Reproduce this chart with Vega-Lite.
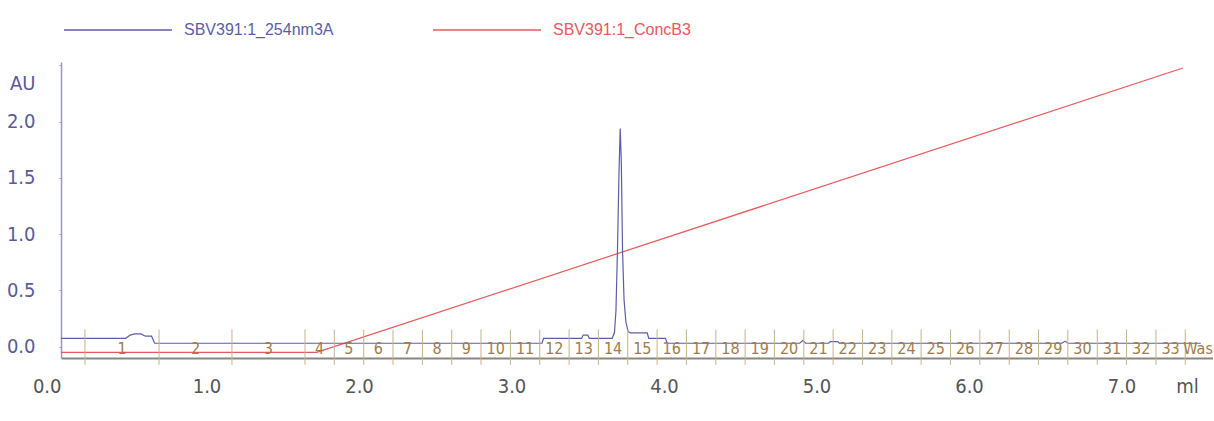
{
  "$schema": "https://vega.github.io/schema/vega-lite/v6.json",
  "autosize": {"type": "none"},
  "padding": {"left": 61, "top": 62, "right": 0, "bottom": 63},
  "width": 1152,
  "height": 296,
  "background": "white",
  "config": {"view": {"stroke": null}},
  "datasets": {
    "fractions": [
      {"label": "1", "start": 0.203, "mid": 0.446},
      {"label": "2", "start": 0.689, "mid": 0.928},
      {"label": "3", "start": 1.167, "mid": 1.406},
      {"label": "4", "start": 1.646, "mid": 1.742},
      {"label": "5", "start": 1.838, "mid": 1.934},
      {"label": "6", "start": 2.031, "mid": 2.127},
      {"label": "7", "start": 2.223, "mid": 2.319},
      {"label": "8", "start": 2.416, "mid": 2.512},
      {"label": "9", "start": 2.608, "mid": 2.704},
      {"label": "10", "start": 2.800, "mid": 2.896},
      {"label": "11", "start": 2.993, "mid": 3.089},
      {"label": "12", "start": 3.185, "mid": 3.281},
      {"label": "13", "start": 3.378, "mid": 3.474},
      {"label": "14", "start": 3.570, "mid": 3.666},
      {"label": "15", "start": 3.762, "mid": 3.858},
      {"label": "16", "start": 3.955, "mid": 4.051},
      {"label": "17", "start": 4.147, "mid": 4.243},
      {"label": "18", "start": 4.340, "mid": 4.436},
      {"label": "19", "start": 4.532, "mid": 4.628},
      {"label": "20", "start": 4.724, "mid": 4.820},
      {"label": "21", "start": 4.917, "mid": 5.013},
      {"label": "22", "start": 5.109, "mid": 5.205},
      {"label": "23", "start": 5.302, "mid": 5.398},
      {"label": "24", "start": 5.494, "mid": 5.590},
      {"label": "25", "start": 5.686, "mid": 5.782},
      {"label": "26", "start": 5.879, "mid": 5.975},
      {"label": "27", "start": 6.071, "mid": 6.167},
      {"label": "28", "start": 6.264, "mid": 6.360},
      {"label": "29", "start": 6.456, "mid": 6.552},
      {"label": "30", "start": 6.648, "mid": 6.744},
      {"label": "31", "start": 6.841, "mid": 6.937},
      {"label": "32", "start": 7.033, "mid": 7.129},
      {"label": "33", "start": 7.226, "mid": 7.322},
      {"label": "Waste", "start": 7.418, "mid": 7.55}
    ],
    "curves": [
      {"series": "SBV391:1_ConcB3", "ml": 0.046, "au": -0.05},
      {"series": "SBV391:1_ConcB3", "ml": 1.722, "au": -0.05},
      {"series": "SBV391:1_ConcB3", "ml": 7.403, "au": 2.478},
      {"series": "SBV391:1_254nm3A", "ml": 0.046, "au": 0.075},
      {"series": "SBV391:1_254nm3A", "ml": 0.47, "au": 0.075},
      {"series": "SBV391:1_254nm3A", "ml": 0.5, "au": 0.104},
      {"series": "SBV391:1_254nm3A", "ml": 0.53, "au": 0.114},
      {"series": "SBV391:1_254nm3A", "ml": 0.57, "au": 0.114},
      {"series": "SBV391:1_254nm3A", "ml": 0.6, "au": 0.094},
      {"series": "SBV391:1_254nm3A", "ml": 0.64, "au": 0.094},
      {"series": "SBV391:1_254nm3A", "ml": 0.66, "au": 0.031},
      {"series": "SBV391:1_254nm3A", "ml": 3.2, "au": 0.031},
      {"series": "SBV391:1_254nm3A", "ml": 3.21, "au": 0.075},
      {"series": "SBV391:1_254nm3A", "ml": 3.46, "au": 0.075},
      {"series": "SBV391:1_254nm3A", "ml": 3.47, "au": 0.104},
      {"series": "SBV391:1_254nm3A", "ml": 3.5, "au": 0.104},
      {"series": "SBV391:1_254nm3A", "ml": 3.51, "au": 0.075},
      {"series": "SBV391:1_254nm3A", "ml": 3.66, "au": 0.075},
      {"series": "SBV391:1_254nm3A", "ml": 3.675, "au": 0.124},
      {"series": "SBV391:1_254nm3A", "ml": 3.685, "au": 0.32},
      {"series": "SBV391:1_254nm3A", "ml": 3.695, "au": 0.86},
      {"series": "SBV391:1_254nm3A", "ml": 3.705, "au": 1.55},
      {"series": "SBV391:1_254nm3A", "ml": 3.713, "au": 1.94},
      {"series": "SBV391:1_254nm3A", "ml": 3.72, "au": 1.65},
      {"series": "SBV391:1_254nm3A", "ml": 3.728, "au": 0.86},
      {"series": "SBV391:1_254nm3A", "ml": 3.738, "au": 0.419},
      {"series": "SBV391:1_254nm3A", "ml": 3.75, "au": 0.222},
      {"series": "SBV391:1_254nm3A", "ml": 3.765, "au": 0.134},
      {"series": "SBV391:1_254nm3A", "ml": 3.78, "au": 0.124},
      {"series": "SBV391:1_254nm3A", "ml": 3.89, "au": 0.124},
      {"series": "SBV391:1_254nm3A", "ml": 3.9, "au": 0.075},
      {"series": "SBV391:1_254nm3A", "ml": 4.01, "au": 0.075},
      {"series": "SBV391:1_254nm3A", "ml": 4.02, "au": 0.031},
      {"series": "SBV391:1_254nm3A", "ml": 4.89, "au": 0.031},
      {"series": "SBV391:1_254nm3A", "ml": 4.91, "au": 0.055},
      {"series": "SBV391:1_254nm3A", "ml": 4.93, "au": 0.031},
      {"series": "SBV391:1_254nm3A", "ml": 5.08, "au": 0.031},
      {"series": "SBV391:1_254nm3A", "ml": 5.09, "au": 0.045},
      {"series": "SBV391:1_254nm3A", "ml": 5.14, "au": 0.045},
      {"series": "SBV391:1_254nm3A", "ml": 5.15, "au": 0.031},
      {"series": "SBV391:1_254nm3A", "ml": 6.61, "au": 0.031},
      {"series": "SBV391:1_254nm3A", "ml": 6.63, "au": 0.05},
      {"series": "SBV391:1_254nm3A", "ml": 6.65, "au": 0.031},
      {"series": "SBV391:1_254nm3A", "ml": 7.52, "au": 0.031}
    ]
  },
  "layer": [
    {
      "data": {"name": "curves"},
      "mark": {"type": "line", "strokeWidth": 1.2, "interpolate": "linear"},
      "encoding": {
        "x": {
          "field": "ml", "type": "quantitative",
          "scale": {"domain": [0.046, 7.6], "nice": false, "zero": false},
          "axis": {
            "values": [0.046, 1, 2, 3, 4, 5, 6, 7, 7.43],
            "labelExpr": "datum.value > 7.2 ? 'ml' : (datum.value < 0.1 ? '0.0' : format(datum.value, '.1f'))",
            "labelAlign": {"condition": {"test": "datum.value < 0.1", "value": "right"}, "value": "center"},
            "title": null, "grid": false, "ticks": false, "tickSize": 0,
            "domainColor": "#8a8580", "domainWidth": 2,
            "labelFont": "Liberation Sans Narrow, DejaVu Sans Condensed, sans-serif",
            "labelFontSize": 20, "labelColor": "#555555", "labelPadding": 18,
            "labelFlush": false, "labelOverlap": false
          }
        },
        "y": {
          "field": "au", "type": "quantitative",
          "scale": {"domain": [-0.1, 2.531], "nice": false, "zero": false},
          "axis": {
            "values": [0, 0.25, 0.5, 0.75, 1, 1.25, 1.5, 1.75, 2, 2.25, 2.5],
            "labelExpr": "datum.value <= 2.01 && round(datum.value * 100) % 50 == 0 ? format(datum.value, '.1f') : ''",
            "title": "AU", "titleAngle": 0, "titleX": -26, "titleY": 21, "titleAlign": "right", "titleBaseline": "middle",
            "titleFont": "Liberation Sans Narrow, DejaVu Sans Condensed, sans-serif", "titleFontSize": 20, "titleFontWeight": "normal", "titleColor": "#5a5a96",
            "grid": false, "tickSize": 2, "tickColor": "#9a9ab8",
            "domainColor": "#9a9ab8", "domainWidth": 1.5,
            "labelFont": "Liberation Sans Narrow, DejaVu Sans Condensed, sans-serif",
            "labelFontSize": 20, "labelColor": "#5a5a96", "labelPadding": 24, "labelDy": 0,
            "labelOverlap": false
          }
        },
        "color": {
          "field": "series", "type": "nominal",
          "scale": {"domain": ["SBV391:1_254nm3A", "SBV391:1_ConcB3"], "range": ["#5b5ea6", "#e8585c"]},
          "legend": {
            "orient": "none", "legendX": 2, "legendY": -87, "direction": "horizontal",
            "title": null, "padding": 0,
            "symbolType": "stroke", "symbolSize": 11664, "symbolStrokeWidth": 1.5,
            "labelFont": "Liberation Sans, Arial, sans-serif", "labelFontSize": 16, "labelOffset": 11,
            "columnPadding": 96,
            "labelLimit": 400,
            "encode": {"labels": {"update": {"fill": {"scale": "color", "field": "value"}}}}
          }
        }
      }
    },
    {
      "data": {"name": "fractions"},
      "mark": {"type": "rule", "color": "#c8b28c", "strokeWidth": 1},
      "encoding": {
        "x": {"field": "start", "type": "quantitative"},
        "y": {"datum": 0.153, "type": "quantitative"},
        "y2": {"datum": -0.161}
      }
    },
    {
      "data": {"name": "fractions"},
      "mark": {"type": "text", "color": "#a07c48", "font": "Liberation Sans Narrow, DejaVu Sans Condensed, sans-serif", "fontSize": 16, "baseline": "middle", "align": "center"},
      "encoding": {
        "x": {"field": "mid", "type": "quantitative"},
        "y": {"datum": -0.024, "type": "quantitative"},
        "text": {"field": "label"}
      }
    }
  ]
}
